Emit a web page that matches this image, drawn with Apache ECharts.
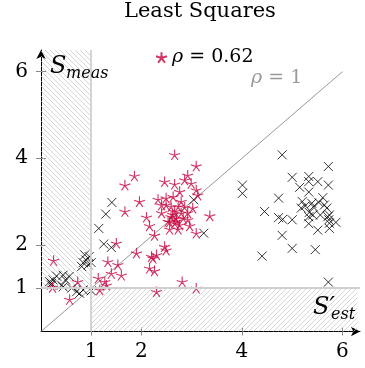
<!DOCTYPE html>
<html>
<head>
<meta charset="utf-8">
<script src="https://cdn.jsdelivr.net/npm/echarts@6/dist/echarts.min.js"></script>
<style>
  html, body { margin: 0; padding: 0; background: #fff; }
  #main { width: 365px; height: 368px; }
</style>
</head>
<body>
<div id="main"></div>
<script>
// 数据: 黑色 × (measured, 不相关) 和 红色星 (least squares)
var blackX = [
  [1.41,2.98],[1.29,2.71],[1.15,2.38],[1.25,2.02],[1.40,1.94],[0.87,1.77],[0.96,1.73],
  [0.90,1.65],[0.84,1.59],[1.00,1.59],[0.81,1.50],[0.94,1.54],[0.44,1.30],[0.56,1.27],
  [0.49,1.19],[0.31,1.28],[0.24,1.19],[0.21,1.11],[0.41,1.07],[0.17,1.15],[0.44,1.03],
  [0.61,1.00],[0.71,0.92],[0.84,0.96],[1.00,0.94],[0.77,0.88],[0.21,1.07],
  [3.04,3.04],[3.24,2.27],
  [4.80,4.08],[5.72,3.81],[5.00,3.56],[5.33,3.58],[5.33,3.46],[5.51,3.46],[5.72,3.38],
  [4.01,3.38],[4.01,3.19],[5.15,3.33],[5.33,3.22],[4.73,3.08],[5.61,3.09],[5.20,3.00],
  [5.26,2.90],[5.39,2.96],[5.53,2.98],[5.18,2.85],[5.69,2.85],[4.45,2.77],[5.34,2.75],
  [5.41,2.69],[5.33,2.65],[4.73,2.63],[4.81,2.59],[5.00,2.58],[5.56,2.69],[5.71,2.65],
  [5.74,2.69],[5.73,2.58],[5.74,2.50],[5.87,2.52],[5.33,2.49],[5.51,2.34],[5.74,2.38],
  [4.80,2.22],[5.00,1.92],[5.46,1.89],[4.40,1.74],[5.72,1.14],[5.64,2.92],[5.42,2.88]
];
var redStar = [
  [2.66,4.08],[3.09,3.82],[1.86,3.59],[1.67,3.38],[2.46,3.46],[2.66,3.40],[2.92,3.61],
  [2.86,3.50],[2.99,3.42],[2.76,3.23],[3.09,3.27],[3.12,3.15],[1.96,3.00],[2.33,3.05],
  [2.49,3.08],[2.63,3.11],[2.79,3.00],[2.49,2.92],[2.59,2.88],[2.73,2.88],[3.02,2.85],
  [1.67,2.77],[2.40,2.74],[3.36,2.67],[2.66,2.77],[2.79,2.73],[2.92,2.74],[2.10,2.64],
  [2.59,2.65],[2.69,2.61],[2.83,2.61],[2.92,2.58],[2.53,2.54],[2.66,2.50],[2.76,2.46],
  [2.16,2.44],[2.73,2.36],[2.56,2.36],[2.96,2.44],[2.26,2.22],[3.09,2.27],[1.50,2.04],
  [1.90,1.81],[2.46,1.96],[2.49,1.88],[2.20,1.73],[2.30,1.77],[2.23,1.69],[1.33,1.61],
  [1.53,1.54],[1.40,1.34],[1.60,1.30],[2.16,1.46],[2.26,1.40],[1.14,1.23],[1.27,1.15],
  [1.30,1.07],[1.17,0.96],[2.81,1.15],[2.30,0.92],[3.09,1.00],[0.25,1.64],[0.73,1.15],
  [0.23,1.02],[0.57,0.74],[2.62,2.70],[2.70,2.55],[2.56,2.53],[2.86,2.87],[2.40,2.92]
];
var idealLine = [[0,0],[6,6]];
var xTicks = [1,2,4,6];
var yTicks = [1,2,4,6];

// 斜线填充
function hatch(dir) {
  var c = document.createElement("canvas");
  c.width = 5; c.height = 5;
  var g = c.getContext("2d");
  g.strokeStyle = "#c4c4c4";
  g.lineWidth = 0.7;
  g.beginPath();
  if (dir === "nw") {
    g.moveTo(-1,-1); g.lineTo(6,6);
    g.moveTo(-1,4); g.lineTo(1,6);
    g.moveTo(4,-1); g.lineTo(6,1);
  } else {
    g.moveTo(-1,6); g.lineTo(6,-1);
    g.moveTo(-1,1); g.lineTo(1,-1);
    g.moveTo(4,6); g.lineTo(6,4);
  }
  g.stroke();
  return { image: c, repeat: "repeat" };
}

var serif = "DejaVu Serif";
var crossPath = "path://M0,0L10,10M10,0L0,10";
var starPath = "path://M10,10L10,0M10,10L19.51,6.91M10,10L15.88,18.09M10,10L4.12,18.09M10,10L0.49,6.91";

var myChart = echarts.init(document.getElementById("main"));
var option = {
  animation: false,
  title: {
    text: "Least Squares",
    left: 124, top: 1, padding: 0,
    textStyle: { fontFamily: serif, fontSize: 21, fontWeight: "normal", color: "#000" }
  },
  legend: {
    data: ["rho"],
    left: 150, top: 43,
    itemWidth: 11, itemHeight: 11, itemGap: 6,
    formatter: function () { return "{i|ρ} = 0.62"; },
    textStyle: {
      fontFamily: serif, fontSize: 19, color: "#000",
      rich: { i: { fontFamily: serif, fontSize: 19, fontStyle: "italic" } }
    }
  },
  grid: { left: 41, right: 5, top: 50, bottom: 36.5, containLabel: false },
  xAxis: [{
    type: "value", min: 0, max: 6.35,
    splitLine: { show: false },
    axisLine: { lineStyle: { color: "#000", width: 1 }, symbol: ["none", "arrow"], symbolSize: [7, 9] },
    axisTick: { show: true, length: 4, customValues: xTicks, lineStyle: { color: "#888" } },
    axisLabel: { customValues: xTicks, margin: 10, fontFamily: serif, fontSize: 20, color: "#000" }
  }, {
    type: "value", min: 0, max: 6.35, position: "bottom",
    axisLine: { show: false }, splitLine: { show: false },
    axisTick: { show: true, inside: true, length: 4, customValues: xTicks, lineStyle: { color: "#888" } },
    axisLabel: { show: false }
  }],
  yAxis: [{
    type: "value", min: 0, max: 6.5,
    splitLine: { show: false },
    axisLine: { lineStyle: { color: "#000", width: 1 }, symbol: ["none", "arrow"], symbolSize: [7, 9] },
    axisTick: { show: true, length: 5, customValues: yTicks, lineStyle: { color: "#888" } },
    axisLabel: { customValues: yTicks, margin: 13, fontFamily: serif, fontSize: 20, color: "#000" }
  }, {
    type: "value", min: 0, max: 6.5, position: "left",
    axisLine: { show: false }, splitLine: { show: false },
    axisTick: { show: true, inside: true, length: 5, customValues: yTicks, lineStyle: { color: "#888" } },
    axisLabel: { show: false }
  }],
  series: [
    {
      name: "ideal", type: "line", data: idealLine, symbol: "none", silent: true,
      lineStyle: { color: "#8c8c8c", width: 0.9 },
      markArea: {
        silent: true,
        data: [
          [{ coord: [0, 1], itemStyle: { color: hatch("nw") } }, { coord: [1, 6.5] }],
          [{ coord: [1, 0], itemStyle: { color: hatch("ne") } }, { coord: [6.3, 1] }]
        ]
      },
      markLine: {
        silent: true, symbol: "none", label: { show: false },
        lineStyle: { color: "#d0d0d0", width: 1.8, type: "solid" },
        data: [{ xAxis: 1 }, { yAxis: 1 }]
      },
      z: 1
    },
    {
      name: "meas", type: "scatter", data: blackX,
      symbol: crossPath, symbolSize: 9,
      itemStyle: { color: "transparent", borderColor: "#000", borderWidth: 1 },
      z: 3
    },
    {
      name: "rho", type: "scatter", data: redStar,
      symbol: starPath, symbolSize: [11, 10.5],
      itemStyle: { color: "transparent", borderColor: "#c5053f", borderWidth: 1.1 },
      z: 4
    }
  ],
  graphic: [
    { type: "text", left: 50, top: 55, z: 10,
      style: { text: "S", font: "italic 24px 'DejaVu Serif'", fill: "#000" } },
    { type: "text", left: 66, top: 66, z: 10,
      style: { text: "meas", font: "italic 16px 'DejaVu Serif'", fill: "#000" } },
    { type: "text", left: 313, top: 296, z: 10,
      style: { text: "S′", font: "italic 24px 'DejaVu Serif'", fill: "#000" } },
    { type: "text", left: 331, top: 307, z: 10,
      style: { text: "est", font: "italic 16px 'DejaVu Serif'", fill: "#000" } },
    { type: "text", left: 251, top: 69, z: 10,
      style: { text: "{i|ρ} = 1", font: "19px 'DejaVu Serif'", fill: "#9a9a9a",
        rich: { i: { font: "italic 19px 'DejaVu Serif'", fill: "#9a9a9a" } } } }
  ]
};
option && myChart.setOption(option);
</script>
</body>
</html>
